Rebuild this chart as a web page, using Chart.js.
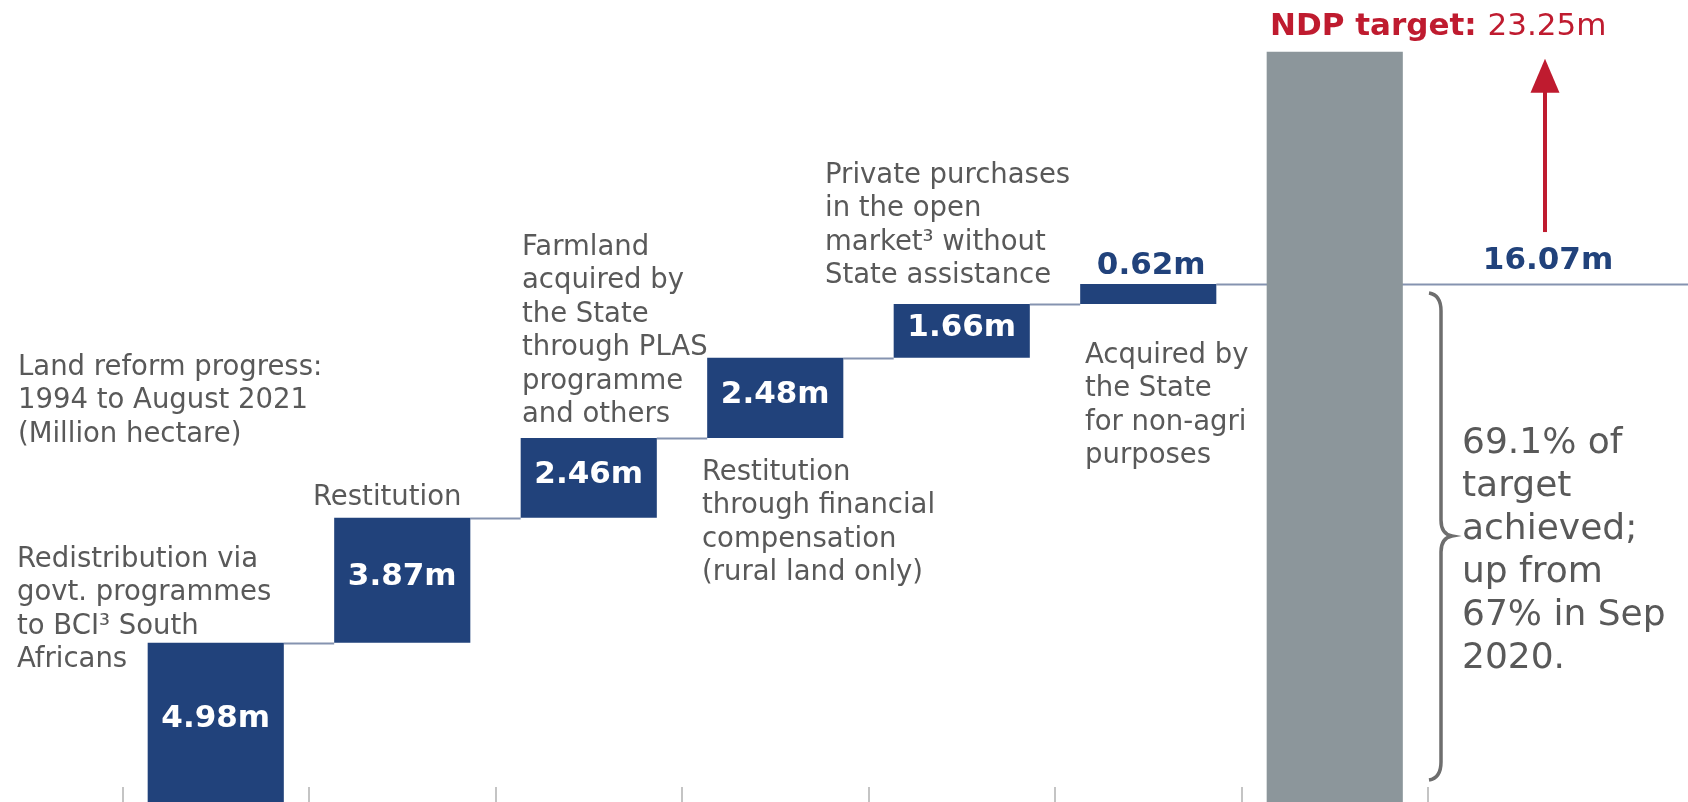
<!DOCTYPE html>
<html>
<head>
<meta charset="utf-8">
<script src="https://cdn.jsdelivr.net/npm/chart.js@4.4.1/dist/chart.umd.min.js"></script>
<style>
  html, body { margin: 0; padding: 0; background: #fff; overflow: hidden; }
  #wrap { width: 1688px; height: 802px; position: relative; }
</style>
</head>
<body>
<div id="wrap"><canvas id="land"></canvas></div>
<script>
// values in million hectare
const categories = ['Redistribution', 'Restitution', 'PLAS', 'Financial compensation', 'Private purchases', 'Non-agri', 'NDP target'];
const steps = [4.98, 3.87, 2.46, 2.48, 1.66, 0.62];
const stepLabels = ['4.98m', '3.87m', '2.46m', '2.48m', '1.66m', '0.62m'];
const total = 16.07;
const totalLabel = '16.07m';
const target = 23.25;
const targetLabel = '23.25m';

const titleLines = ['Land reform progress:', '1994 to August 2021', '(Million hectare)'];
const redistLines = ['Redistribution via', 'govt. programmes', 'to BCI\u00b3 South', 'Africans'];
const restLines = ['Restitution'];
const plasLines = ['Farmland', 'acquired by', 'the State', 'through PLAS', 'programme', 'and others'];
const compLines = ['Restitution', 'through financial', 'compensation', '(rural land only)'];
const privLines = ['Private purchases', 'in the open', 'market\u00b3 without', 'State assistance'];
const nonAgriLines = ['Acquired by', 'the State', 'for non-agri', 'purposes'];
const shareLines = ['69.1% of', 'target', 'achieved;', 'up from', '67% in Sep', '2020.'];

const BLUE = '#21427b';
const GREY_BAR = '#8c969b';
const TEXT = '#595959';
const RED = '#bf1b2f';
const FONT = '"DejaVu Sans", Verdana, sans-serif';

// floating bars for the waterfall
let run = 0;
const spans = steps.map(v => {
    const s = [run, +(run + v).toFixed(2)];
    run = s[1];
    return s;
});
spans.push([0, target]);

function textBlock(ctx, lines, x, y, lh) {
    lines.forEach((l, i) => ctx.fillText(l, x, y + i * lh));
}

const waterfallExtras = {
    id: 'waterfallExtras',
    beforeDatasetsDraw(chart) {
        const ctx = chart.ctx;
        const y = chart.scales.y;
        const bars = chart.getDatasetMeta(0).data;
        ctx.save();
        ctx.strokeStyle = '#8593b0';
        ctx.lineWidth = 2;
        for (let i = 0; i < steps.length; i++) {
            const lvl = Math.round(y.getPixelForValue(spans[i][1])) + 0.5;
            const x1 = bars[i].x + bars[i].width / 2;
            const x2 = i < steps.length - 1 ? bars[i + 1].x - bars[i + 1].width / 2 : chart.width;
            ctx.beginPath();
            ctx.moveTo(x1, lvl);
            ctx.lineTo(x2, lvl);
            ctx.stroke();
        }
        ctx.restore();
    },
    afterDatasetsDraw(chart) {
        const ctx = chart.ctx;
        const x = chart.scales.x;
        const y = chart.scales.y;
        const area = chart.chartArea;
        const bars = chart.getDatasetMeta(0).data;
        const zero = y.getPixelForValue(0);
        ctx.save();

        // small tick marks between categories
        ctx.strokeStyle = '#c4c4c4';
        ctx.lineWidth = 2;
        const n = categories.length;
        for (let i = 0; i <= n; i++) {
            const px = Math.round(x.left + i * (x.right - x.left) / n);
            ctx.beginPath();
            ctx.moveTo(px, zero - 17);
            ctx.lineTo(px, zero);
            ctx.stroke();
        }

        // values in the bars
        ctx.font = 'bold 31px ' + FONT;
        ctx.textAlign = 'center';
        ctx.textBaseline = 'alphabetic';
        stepLabels.forEach((lab, i) => {
            const b = bars[i];
            if (i === steps.length - 1) {
                ctx.fillStyle = BLUE;
                ctx.fillText(lab, b.x + 3, b.y - 10);
                return;
            }
            const top = b.y;
            const bot = Math.min(b.base, area.bottom);
            ctx.fillStyle = '#ffffff';
            ctx.fillText(lab, b.x, (top + bot) / 2 + 5);
        });

        // total and arrow to target
        const yt = y.getPixelForValue(total);
        const yg = y.getPixelForValue(target);
        ctx.fillStyle = BLUE;
        ctx.fillText(totalLabel, 1548, yt - 15);

        ctx.strokeStyle = RED;
        ctx.fillStyle = RED;
        ctx.lineWidth = 4;
        ctx.beginPath();
        ctx.moveTo(1545, yt - 52);
        ctx.lineTo(1545, yg + 30);
        ctx.stroke();
        ctx.beginPath();
        ctx.moveTo(1545, yg + 7);
        ctx.lineTo(1530.5, yg + 41);
        ctx.lineTo(1559.5, yg + 41);
        ctx.closePath();
        ctx.fill();

        // NDP target title
        ctx.textAlign = 'left';
        ctx.font = 'bold 31px ' + FONT;
        const head = 'NDP target: ';
        ctx.fillText(head, 1270, 35);
        const w = ctx.measureText(head).width;
        ctx.font = '31px ' + FONT;
        ctx.fillText(targetLabel, 1270 + w, 35);

        // brace
        ctx.strokeStyle = '#6e6e6e';
        ctx.lineWidth = 3.5;
        const bt = yt + 9, bb = 780, bm = 536;
        ctx.beginPath();
        ctx.moveTo(1429, bt);
        ctx.quadraticCurveTo(1441, bt + 2, 1441, bt + 18);
        ctx.lineTo(1441, bm - 16);
        ctx.quadraticCurveTo(1441, bm - 2, 1452, bm);
        ctx.quadraticCurveTo(1441, bm + 2, 1441, bm + 16);
        ctx.lineTo(1441, bb - 18);
        ctx.quadraticCurveTo(1441, bb - 2, 1429, bb);
        ctx.stroke();

        // notes
        ctx.fillStyle = TEXT;
        ctx.font = '27.5px ' + FONT;
        const lh = 33.4;
        textBlock(ctx, titleLines, 18, 375, lh);
        textBlock(ctx, redistLines, 17, 567, lh);
        textBlock(ctx, restLines, 313, 505, lh);
        textBlock(ctx, plasLines, 522, 255, lh);
        textBlock(ctx, compLines, 702, 480, lh);
        textBlock(ctx, privLines, 825, 183, lh);
        textBlock(ctx, nonAgriLines, 1085, 363, lh);
        ctx.font = '36px ' + FONT;
        textBlock(ctx, shareLines, 1462, 453, 43);

        ctx.restore();
    }
};

new Chart(document.getElementById('land'), {
    type: 'bar',
    data: {
        labels: categories,
        datasets: [{
            data: spans,
            backgroundColor: categories.map((c, i) => i < steps.length ? BLUE : GREY_BAR),
            borderWidth: 0,
            categoryPercentage: 1,
            barPercentage: 0.73
        }]
    },
    options: {
        responsive: true,
        maintainAspectRatio: false,
        animation: false,
        layout: { padding: { left: 122.5, right: 260, top: 0, bottom: 0 } },
        plugins: { legend: { display: false }, tooltip: { enabled: false } },
        scales: {
            x: { display: false },
            y: { display: false, min: 0.06, max: 24.85 }
        }
    },
    plugins: [waterfallExtras]
});
</script>
</body>
</html>
